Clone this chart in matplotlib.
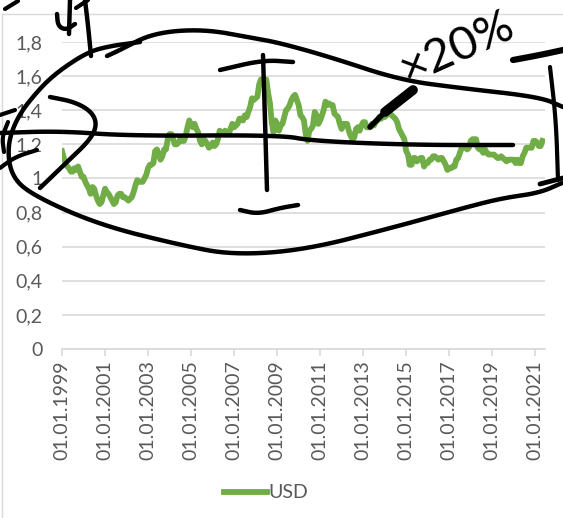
import numpy as np
import pandas as pd
import matplotlib
matplotlib.use("Agg")
import matplotlib.pyplot as plt
from matplotlib.lines import Line2D
import matplotlib.ticker as mticker
import matplotlib.dates as mdates

plt.rcParams['font.family'] = ['Lato', 'DejaVu Sans']

# EUR/USD, monthly values (Jan 1999 .. May 2021)
usd_1999 = [1.16, 1.12, 1.09, 1.07, 1.06, 1.04, 1.04, 1.06, 1.05, 1.07, 1.04, 1.01]
usd_2000 = [1.01, 0.98, 0.96, 0.94, 0.91, 0.95, 0.94, 0.90, 0.87, 0.85, 0.86, 0.90]
usd_2001 = [0.94, 0.92, 0.91, 0.89, 0.87, 0.85, 0.86, 0.90, 0.91, 0.91, 0.89, 0.89]
usd_2002 = [0.88, 0.87, 0.88, 0.89, 0.92, 0.96, 0.99, 0.98, 0.98, 0.98, 1.00, 1.02]
usd_2003 = [1.06, 1.08, 1.08, 1.09, 1.16, 1.17, 1.14, 1.11, 1.13, 1.17, 1.17, 1.23]
usd_2004 = [1.26, 1.26, 1.23, 1.20, 1.20, 1.21, 1.23, 1.22, 1.22, 1.25, 1.30, 1.34]
usd_2005 = [1.31, 1.30, 1.32, 1.29, 1.27, 1.22, 1.20, 1.23, 1.22, 1.20, 1.18, 1.19]
usd_2006 = [1.21, 1.19, 1.20, 1.23, 1.28, 1.27, 1.27, 1.28, 1.27, 1.26, 1.29, 1.32]
usd_2007 = [1.30, 1.31, 1.32, 1.35, 1.35, 1.34, 1.37, 1.36, 1.39, 1.42, 1.47, 1.46]
usd_2008 = [1.47, 1.48, 1.55, 1.58, 1.56, 1.56, 1.58, 1.50, 1.44, 1.33, 1.27, 1.34]
usd_2009 = [1.32, 1.28, 1.31, 1.32, 1.36, 1.40, 1.41, 1.43, 1.46, 1.48, 1.49, 1.46]
usd_2010 = [1.43, 1.37, 1.36, 1.34, 1.26, 1.22, 1.28, 1.29, 1.31, 1.39, 1.37, 1.32]
usd_2011 = [1.34, 1.37, 1.40, 1.45, 1.43, 1.44, 1.43, 1.43, 1.38, 1.37, 1.36, 1.32]
usd_2012 = [1.29, 1.32, 1.32, 1.32, 1.28, 1.25, 1.23, 1.24, 1.29, 1.30, 1.28, 1.31]
usd_2013 = [1.33, 1.33, 1.30, 1.30, 1.30, 1.32, 1.31, 1.33, 1.34, 1.36, 1.35, 1.37]
usd_2014 = [1.36, 1.37, 1.38, 1.38, 1.37, 1.36, 1.35, 1.33, 1.29, 1.27, 1.25, 1.23]
usd_2015 = [1.16, 1.14, 1.08, 1.08, 1.12, 1.12, 1.10, 1.11, 1.12, 1.12, 1.07, 1.09]
usd_2016 = [1.09, 1.11, 1.11, 1.13, 1.13, 1.12, 1.11, 1.12, 1.12, 1.10, 1.08, 1.05]
usd_2017 = [1.06, 1.06, 1.07, 1.07, 1.11, 1.12, 1.15, 1.18, 1.19, 1.18, 1.17, 1.18]
usd_2018 = [1.22, 1.23, 1.23, 1.23, 1.18, 1.17, 1.17, 1.15, 1.17, 1.15, 1.14, 1.14]
usd_2019 = [1.14, 1.14, 1.13, 1.12, 1.12, 1.13, 1.12, 1.11, 1.10, 1.11, 1.11, 1.11]
usd_2020 = [1.11, 1.09, 1.11, 1.09, 1.09, 1.13, 1.15, 1.18, 1.18, 1.18, 1.18, 1.22]
usd_2021 = [1.22, 1.21, 1.19, 1.19, 1.22]

usd = (usd_1999 + usd_2000 + usd_2001 + usd_2002 + usd_2003 + usd_2004 + usd_2005
       + usd_2006 + usd_2007 + usd_2008 + usd_2009 + usd_2010 + usd_2011 + usd_2012
       + usd_2013 + usd_2014 + usd_2015 + usd_2016 + usd_2017 + usd_2018 + usd_2019
       + usd_2020 + usd_2021)
dates = pd.date_range('1999-01-01', periods=len(usd), freq='MS')

tick_years = list(range(1999, 2022, 2))
y_ticks = [0, 0.2, 0.4, 0.6, 0.8, 1.0, 1.2, 1.4, 1.6, 1.8]

# hand drawn scribbles on top of the screenshot, in image pixels (x, y from top)
scribbles = [
    ([(140, 42), (110, 46), (88, 52), (60, 70), (40, 88), (17, 117), (7, 147), (12, 178),
      (36, 197), (100, 225), (180, 245), (233, 255), (305, 250), (395, 227), (467, 207),
      (503, 198), (539, 193), (562, 183)], 3.2),
    ([(107, 56), (120, 50), (153, 33), (203, 29), (253, 38), (280, 43), (330, 57),
      (400, 80), (460, 88), (540, 97), (563, 107)], 3.2),
    ([(0, 133), (60, 131), (130, 136), (280, 135), (313, 141), (413, 145), (513, 145)], 3.2),
    ([(50, 97), (75, 102), (92, 112), (97, 125), (90, 140), (67, 162), (40, 188)], 3.2),
    ([(0, 115), (15, 110)], 3),
    ([(8, 122), (2, 137), (4, 152)], 3),
    ([(0, 168), (15, 157), (37, 150)], 3),
    ([(220, 70), (263, 60), (293, 62)], 3.2),
    ([(263, 55), (265, 120), (267, 190)], 3.2),
    ([(240, 210), (258, 214), (280, 208), (298, 205)], 3.2),
    ([(513, 60), (540, 55), (563, 50)], 4.5),
    ([(550, 67), (556, 120), (558, 180)], 3),
    ([(540, 184), (563, 178)], 3.5),
    ([(413, 90), (385, 112)], 7),
    ([(385, 112), (370, 127)], 4),
    ([(85, 0), (88, 25), (91, 56)], 3.2),
    ([(70, 0), (69, 34)], 3.2),
    ([(57, 14), (58, 26), (66, 30), (75, 24)], 3.2),
    ([(76, 8), (88, 0)], 3),
    ([(5, 9), (18, 1)], 3),
]


def chaikin(pts, n=3):
    pts = np.asarray(pts, float)
    for _ in range(n):
        if len(pts) < 3:
            break
        q = 0.75 * pts[:-1] + 0.25 * pts[1:]
        r = 0.25 * pts[:-1] + 0.75 * pts[1:]
        mid = np.empty((2 * len(q), 2))
        mid[0::2] = q
        mid[1::2] = r
        pts = np.vstack([pts[:1], mid, pts[-1:]])
    return pts


W, H = 563, 518
fig = plt.figure(figsize=(W / 100, H / 100), dpi=100)
ax = fig.add_axes([62 / W, (H - 349) / H, (545 - 62) / W, (349 - 42) / H])

ax.plot(dates, usd, color='#70AD47', lw=4.2, solid_joinstyle='round', label='USD')

ax.set_ylim(0, 1.8)
ax.set_xlim(pd.Timestamp('1999-01-01'), pd.Timestamp('2021-06-15'))
ax.set_yticks(y_ticks)
ax.yaxis.set_major_formatter(mticker.FuncFormatter(
    lambda v, p: ('%g' % round(v, 1)).replace('.', ',')))
ax.set_xticks([pd.Timestamp('%d-01-01' % y) for y in tick_years])
ax.xaxis.set_major_formatter(mdates.DateFormatter('%d.%m.%Y'))
ax.grid(axis='y', color='#D9D9D9', lw=1.2)
ax.set_axisbelow(True)
for s in ['top', 'right', 'left']:
    ax.spines[s].set_visible(False)
ax.spines['bottom'].set_color('#D9D9D9')
ax.spines['bottom'].set_linewidth(1.2)
ax.tick_params(axis='y', length=0, pad=14, labelsize=14, labelcolor='#595959')
ax.tick_params(axis='x', length=5, width=1.2, color='#D9D9D9', pad=3,
               labelsize=14, labelcolor='#595959', labelrotation=90)

fig.legend(loc='center', bbox_to_anchor=(266 / W, 1 - 493 / H), frameon=False,
           fontsize=14, labelcolor='#595959', handlelength=2.2, handletextpad=0.1)

# chart area border
fig.add_artist(Line2D([2 / W, 1], [1 - 14 / H, 1 - 14 / H], color='#D9D9D9', lw=1))
fig.add_artist(Line2D([2 / W, 2 / W], [1 - 14 / H, 0], color='#D9D9D9', lw=1))

for pts, lw in scribbles:
    sm = chaikin(pts)
    fig.add_artist(Line2D(sm[:, 0] / W, 1 - sm[:, 1] / H, color='black', lw=lw,
                          solid_capstyle='round', solid_joinstyle='round', zorder=10))

fig.text(458 / W, 1 - 48 / H, '×20%', fontsize=34, color='black', rotation=24,
         ha='center', va='center', zorder=10)

fig.savefig('out.png', dpi=100)
